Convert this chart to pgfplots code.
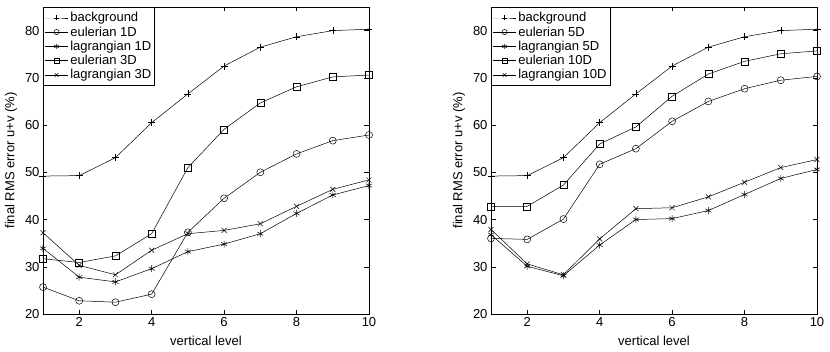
\documentclass[border=0pt]{standalone}
\usepackage{fontspec}
\setmainfont{Liberation Sans}
\usepackage{pgfplots}
\pgfplotsset{compat=1.18}

\pgfplotsset{
  rmsaxis/.style={
    scale only axis, width=326pt, height=307pt,
    xmin=1, xmax=10, ymin=20, ymax=85,
    xtick={2,4,...,10}, ytick={20,30,...,80},
    tick align=inside, major tick length=4.5pt,
    tick style={black, line width=0.5pt},
    axis line style={line width=0.6pt},
    font=\fontsize{13}{15}\selectfont,
    /pgf/number format/assume math mode=true,
    tick label style={font=\fontsize{13}{15}\selectfont},
    label style={font=\fontsize{13}{15}\selectfont},
    xlabel={vertical level},
    xlabel style={yshift=-2.5pt},
    ylabel={final RMS error u+v (\%)},
    ylabel style={yshift=1pt},
    legend cell align=left,
    legend style={at={(0,1)}, anchor=north west, draw=black, fill=white,
      line width=0.6pt, font=\fontsize{13}{15}\selectfont,
      inner xsep=1.5pt, inner ysep=3pt, row sep=-0.6pt},
    legend image code/.code={%
      \draw[mark repeat=2, mark phase=2, mark size=2.6pt] plot coordinates {(0pt,0pt) (11.5pt,0pt) (23pt,0pt)};},
    every axis plot/.append style={black, line width=0.5pt, mark size=3.5pt,
      mark options={solid, line width=0.5pt}},
  }
}

\begin{document}
\begin{tikzpicture}
\useasboundingbox (0pt,0pt) rectangle (830pt,351pt);

% left panel
\begin{axis}[rmsaxis, at={(43pt,37pt)}, anchor=south west]
\addplot[mark=+] coordinates {(1,49.2) (2,49.3) (3,53.1) (4,60.5) (5,66.6) (6,72.5) (7,76.5) (8,78.7) (9,80.0) (10,80.3)};
\addlegendentry{background}
\addplot[mark=o] coordinates {(1,25.7) (2,22.8) (3,22.5) (4,24.2) (5,37.3) (6,44.5) (7,50.0) (8,53.9) (9,56.7) (10,57.9)};
\addlegendentry{eulerian 1D}
\addplot[mark=asterisk] coordinates {(1,33.9) (2,27.8) (3,26.8) (4,29.6) (5,33.2) (6,34.8) (7,37.0) (8,41.3) (9,45.2) (10,47.2)};
\addlegendentry{lagrangian 1D}
\addplot[mark=square] coordinates {(1,31.7) (2,30.9) (3,32.3) (4,37.0) (5,51.0) (6,59.1) (7,64.7) (8,68.1) (9,70.2) (10,70.6)};
\addlegendentry{eulerian 3D}
\addplot[mark=x] coordinates {(1,37.2) (2,30.3) (3,28.3) (4,33.5) (5,37.0) (6,37.7) (7,39.1) (8,42.8) (9,46.4) (10,48.4)};
\addlegendentry{lagrangian 3D}
\end{axis}

% right panel
\begin{axis}[rmsaxis, at={(491pt,37pt)}, anchor=south west]
\addplot[mark=+] coordinates {(1,49.2) (2,49.3) (3,53.1) (4,60.5) (5,66.6) (6,72.5) (7,76.5) (8,78.7) (9,80.0) (10,80.3)};
\addlegendentry{background}
\addplot[mark=o] coordinates {(1,36.0) (2,35.8) (3,40.1) (4,51.7) (5,55.0) (6,60.8) (7,65.0) (8,67.7) (9,69.5) (10,70.3)};
\addlegendentry{eulerian 5D}
\addplot[mark=asterisk] coordinates {(1,36.8) (2,30.1) (3,28.1) (4,34.6) (5,40.0) (6,40.2) (7,41.9) (8,45.3) (9,48.7) (10,50.6)};
\addlegendentry{lagrangian 5D}
\addplot[mark=square] coordinates {(1,42.8) (2,42.8) (3,47.3) (4,56.0) (5,59.6) (6,66.1) (7,70.8) (8,73.5) (9,75.1) (10,75.7)};
\addlegendentry{eulerian 10D}
\addplot[mark=x] coordinates {(1,37.9) (2,30.6) (3,28.3) (4,35.9) (5,42.3) (6,42.5) (7,44.8) (8,47.9) (9,51.0) (10,52.7)};
\addlegendentry{lagrangian 10D}
\end{axis}
\end{tikzpicture}
\end{document}
